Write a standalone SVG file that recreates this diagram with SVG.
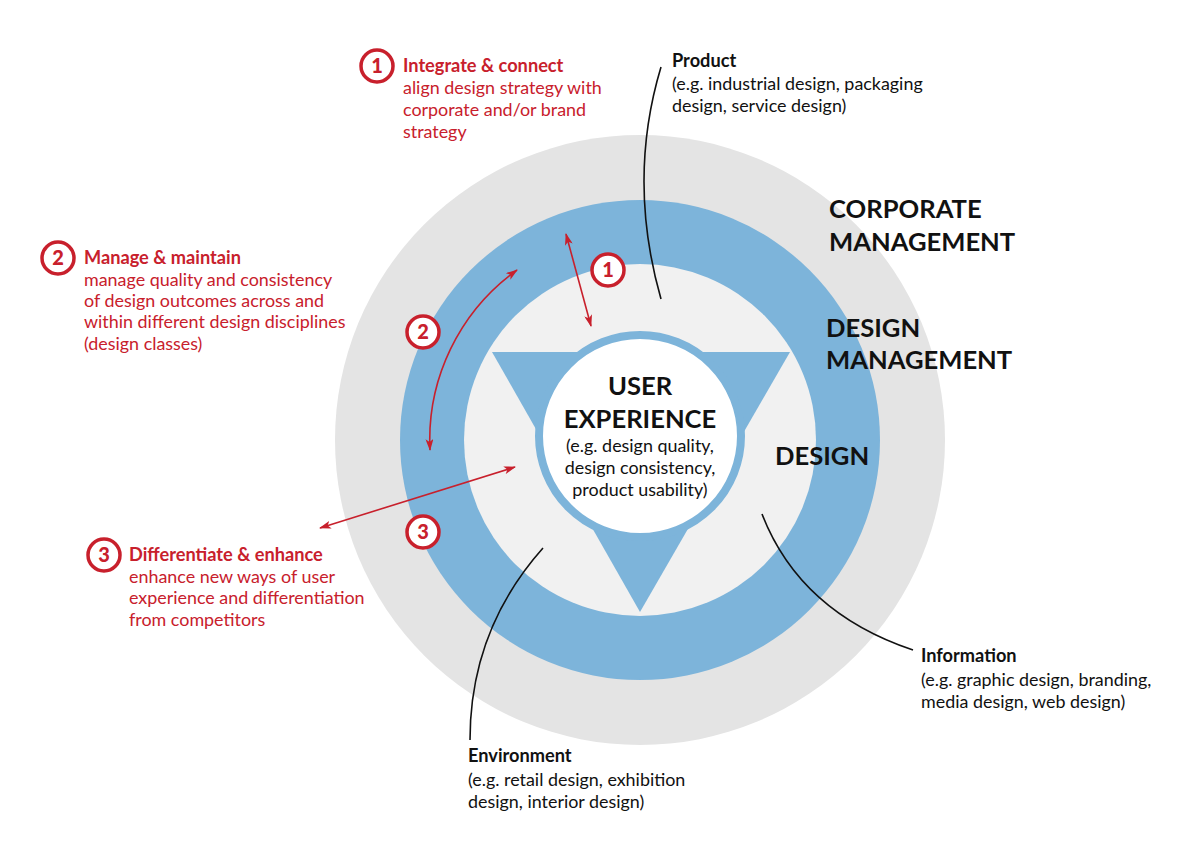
<svg xmlns="http://www.w3.org/2000/svg" width="1200" height="865" viewBox="0 0 1200 865">
<style>
.t{font-family:Lato,"Open Sans","Liberation Sans",sans-serif;font-size:17.9px;fill:#111}
.b{font-weight:bold;font-size:18.2px}
.r{fill:#c8202c}
.big{font-family:Lato,"Open Sans","Liberation Sans",sans-serif;font-weight:bold;font-size:25.6px;fill:#111}
.num{fill:#fff;stroke:#c8202c;stroke-width:3.5}
.numt{font-family:Lato,"Open Sans","Liberation Sans",sans-serif;font-weight:900;font-size:20px;fill:#c8202c;text-anchor:middle}
.ra{fill:none;stroke:#c8202c;stroke-width:1.6;marker-start:url(#ah);marker-end:url(#ah)}
.bl{fill:none;stroke:#111;stroke-width:1.6}
</style>
<defs>
<marker id="ah" viewBox="0 0 12 8" refX="11" refY="4" markerWidth="12" markerHeight="8" markerUnits="userSpaceOnUse" orient="auto-start-reverse">
<path d="M0,0 L12,4 L0,8 L3,4 Z" fill="#c8202c"/>
</marker>
</defs>
<rect width="1200" height="865" fill="#fff"/>
<g id="rings">
<circle cx="640" cy="440" r="305" fill="#e4e4e4"/>
<circle cx="640" cy="440" r="240" fill="#7db4da"/>
<circle cx="640" cy="440" r="176" fill="#f1f1f1"/>
<path d="M492,352 L790,352 L640,612 Z" fill="#7db4da"/>
</g>
<g id="user-experience">
<circle cx="640" cy="436" r="101" fill="#fff" stroke="#7db4da" stroke-width="8"/>
<text class="big" x="640" y="395" text-anchor="middle" font-size="25">USER</text>
<text class="big" x="640" y="428" text-anchor="middle" font-size="25">EXPERIENCE</text>
<text class="t" x="640" y="452" text-anchor="middle">(e.g. design quality,</text>
<text class="t" x="640" y="474" text-anchor="middle">design consistency,</text>
<text class="t" x="640" y="496" text-anchor="middle">product usability)</text>
</g>
<g id="level-labels">
<text class="big" x="829" y="218">CORPORATE</text>
<text class="big" x="829" y="251">MANAGEMENT</text>
<text class="big" x="826" y="337">DESIGN</text>
<text class="big" x="826" y="369">MANAGEMENT</text>
<text class="big" x="775" y="465">DESIGN</text>
</g>
<g id="connectors">
<path class="bl" d="M661,67 Q627,180 661,299"/>
<path class="bl" d="M762,514 Q800,612 913,650"/>
<path class="bl" d="M543,548 Q470,630 470,740"/>
<path class="ra" d="M566,234 L591,326"/>
<path class="ra" d="M517,270 A209,209 0 0 0 430,450"/>
<path class="ra" d="M320,528 L515,467"/>
</g>
<g id="marker-1"><circle class="num" cx="608" cy="270" r="16"/><text class="numt" x="608" y="277">1</text></g>
<g id="marker-2"><circle class="num" cx="423" cy="332" r="16"/><text class="numt" x="423" y="339">2</text></g>
<g id="marker-3"><circle class="num" cx="423" cy="532" r="16"/><text class="numt" x="423" y="539">3</text></g>
<g id="integrate">
<circle class="num" cx="377" cy="66" r="16"/><text class="numt" x="377" y="73">1</text>
<text class="t b r" x="403" y="72">Integrate &amp; connect</text>
<text class="t r" x="403" y="94">align design strategy with</text>
<text class="t r" x="403" y="116">corporate and/or brand</text>
<text class="t r" x="403" y="138">strategy</text>
</g>
<g id="manage">
<circle class="num" cx="58" cy="258" r="16"/><text class="numt" x="58" y="265">2</text>
<text class="t b r" x="84" y="264">Manage &amp; maintain</text>
<text class="t r" x="84" y="286">manage quality and consistency</text>
<text class="t r" x="84" y="307">of design outcomes across and</text>
<text class="t r" x="84" y="328">within different design disciplines</text>
<text class="t r" x="84" y="350">(design classes)</text>
</g>
<g id="differentiate">
<circle class="num" cx="104" cy="555" r="16"/><text class="numt" x="104" y="562">3</text>
<text class="t b r" x="129" y="561">Differentiate &amp; enhance</text>
<text class="t r" x="129" y="583">enhance new ways of user</text>
<text class="t r" x="129" y="604">experience and differentiation</text>
<text class="t r" x="129" y="626">from competitors</text>
</g>
<g id="product">
<text class="t b" x="672" y="67">Product</text>
<text class="t" x="672" y="90">(e.g. industrial design, packaging</text>
<text class="t" x="672" y="112">design, service design)</text>
</g>
<g id="information">
<text class="t b" x="921" y="662">Information</text>
<text class="t" x="921" y="686">(e.g. graphic design, branding,</text>
<text class="t" x="921" y="708">media design, web design)</text>
</g>
<g id="environment">
<text class="t b" x="468" y="762">Environment</text>
<text class="t" x="468" y="786">(e.g. retail design, exhibition</text>
<text class="t" x="468" y="808">design, interior design)</text>
</g>
</svg>
